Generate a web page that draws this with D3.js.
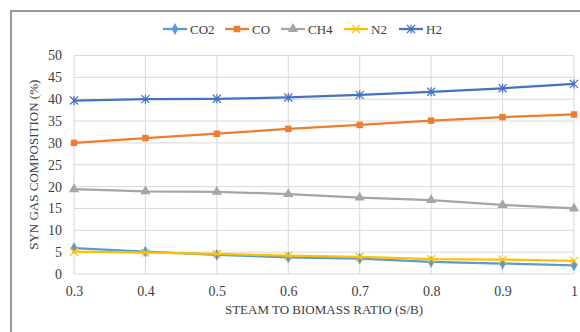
<!DOCTYPE html>
<html>
<head>
<meta charset="utf-8">
<script src="https://cdn.jsdelivr.net/npm/d3@7"></script>
<style>
  body { margin: 0; background: #fff; }
  svg { display: block; }
  text { font-family: "Liberation Serif", "DejaVu Serif", serif; fill: #404040; }
</style>
</head>
<body>
<script>
// data
var ratios = [0.3, 0.4, 0.5, 0.6, 0.7, 0.8, 0.9, 1];
var co2 = [5.9, 5.1, 4.4, 3.8, 3.5, 2.8, 2.4, 2.0];
var co  = [30.0, 31.1, 32.1, 33.2, 34.1, 35.1, 35.9, 36.5];
var ch4 = [19.4, 18.9, 18.8, 18.3, 17.5, 16.9, 15.8, 15.0];
var n2  = [5.1, 4.9, 4.6, 4.2, 3.9, 3.4, 3.3, 3.0];
var h2  = [39.7, 40.0, 40.1, 40.4, 41.0, 41.7, 42.5, 43.5];
var seriesNames = ["CO2", "CO", "CH4", "N2", "H2"];
var yTicks = [0, 5, 10, 15, 20, 25, 30, 35, 40, 45, 50];

var series = [
  {name: seriesNames[0], values: co2, color: "#5B9BD5", marker: "diamond"},
  {name: seriesNames[1], values: co,  color: "#ED7D31", marker: "square"},
  {name: seriesNames[2], values: ch4, color: "#A5A5A5", marker: "triangle"},
  {name: seriesNames[3], values: n2,  color: "#FFC000", marker: "x"},
  {name: seriesNames[4], values: h2,  color: "#4472C4", marker: "star"}
];

var W = 580, H = 332;
var margin = {top: 55.5, right: 6, bottom: 58, left: 74};

var svg = d3.select("body").append("svg")
    .attr("width", W)
    .attr("height", H);

// chart frame (runs off the right and bottom edges)
svg.append("rect")
    .attr("x", 11).attr("y", 11)
    .attr("width", 600).attr("height", 340)
    .attr("fill", "#fff")
    .attr("stroke", "#767676")
    .attr("stroke-width", 1.5);

var xScale = d3.scaleLinear().domain([0.3, 1]).range([margin.left, W - margin.right]);
var yScale = d3.scaleLinear().domain([0, 50]).range([H - margin.bottom, margin.top]);

// gridlines
svg.append("g").selectAll("line.h")
  .data(yTicks)
  .enter().append("line")
    .attr("x1", xScale(0.3)).attr("x2", xScale(1))
    .attr("y1", function(d){ return yScale(d); })
    .attr("y2", function(d){ return yScale(d); })
    .attr("stroke", "#d9d9d9").attr("stroke-width", 1);

svg.append("g").selectAll("line.v")
  .data(ratios)
  .enter().append("line")
    .attr("x1", function(d){ return xScale(d); })
    .attr("x2", function(d){ return xScale(d); })
    .attr("y1", yScale(0)).attr("y2", yScale(50))
    .attr("stroke", "#d9d9d9").attr("stroke-width", 1);

// axes (labels only)
var yAxis = svg.append("g")
    .attr("transform", "translate(" + (margin.left - 12) + ",0)")
    .call(d3.axisLeft(yScale).tickValues(yTicks).tickSize(0).tickPadding(0));
yAxis.select(".domain").remove();
yAxis.selectAll("text").attr("font-size", "14px").style("font-family", "Liberation Serif, serif").attr("fill", "#404040");

var xAxis = svg.append("g")
    .attr("transform", "translate(0," + (yScale(0) + 12) + ")")
    .call(d3.axisBottom(xScale).tickValues(ratios).tickFormat(d3.format("")).tickSize(0).tickPadding(0));
xAxis.select(".domain").remove();
xAxis.selectAll("text").attr("font-size", "14px").style("font-family", "Liberation Serif, serif").attr("fill", "#404040");

// markers
function markerPath(type) {
  if (type == "diamond") return d3.symbol().type(d3.symbolDiamond).size(40)();
  if (type == "square") return d3.symbol().type(d3.symbolSquare).size(42)();
  if (type == "triangle") return d3.symbol().type(d3.symbolTriangle).size(45)();
  if (type == "x") return "M-4,-4L4,4M-4,4L4,-4";
  return "M-4,-4L4,4M-4,4L4,-4M0,-4.5L0,4.5";
}

var line = d3.line()
    .x(function(d, i){ return xScale(ratios[i]); })
    .y(function(d){ return yScale(d); });

series.forEach(function(s){
  svg.append("path")
      .datum(s.values)
      .attr("fill", "none")
      .attr("stroke", s.color)
      .attr("stroke-width", 2.25)
      .attr("stroke-linejoin", "round")
      .attr("d", line);

  svg.selectAll(".dot-" + s.name)
    .data(s.values)
    .enter().append("path")
      .attr("transform", function(d, i){ return "translate(" + xScale(ratios[i]) + "," + yScale(d) + ")"; })
      .attr("d", markerPath(s.marker))
      .attr("fill", s.color)
      .attr("stroke", s.color)
      .attr("stroke-width", (s.marker == "x" || s.marker == "star") ? 1.2 : 0);
});

// legend
var legendX = [163, 225, 281, 344, 399];
var legend = svg.append("g").selectAll("g")
  .data(series)
  .enter().append("g")
    .attr("transform", function(d, i){ return "translate(" + legendX[i] + ",29)"; });
legend.append("line")
    .attr("x1", 0).attr("x2", 24)
    .attr("stroke", function(d){ return d.color; })
    .attr("stroke-width", 2.25);
legend.append("path")
    .attr("transform", "translate(12,0)")
    .attr("d", function(d){ return markerPath(d.marker); })
    .attr("fill", function(d){ return d.color; })
    .attr("stroke", function(d){ return d.color; })
    .attr("stroke-width", function(d){ return (d.marker == "x" || d.marker == "star") ? 1.2 : 0; });
legend.append("text")
    .attr("x", 27)
    .attr("dy", "0.35em")
    .attr("font-size", "13px")
    .text(function(d){ return d.name; });

// axis titles
svg.append("text")
    .attr("x", (xScale(0.3) + xScale(1)) / 2)
    .attr("y", 314)
    .attr("text-anchor", "middle")
    .attr("font-size", "13px")
    .text("STEAM TO BIOMASS RATIO (S/B)");

svg.append("text")
    .attr("transform", "translate(38," + ((yScale(0) + yScale(50)) / 2) + ") rotate(-90)")
    .attr("text-anchor", "middle")
    .attr("font-size", "13px")
    .text("SYN GAS COMPOSITION (%)");
</script>
</body>
</html>
